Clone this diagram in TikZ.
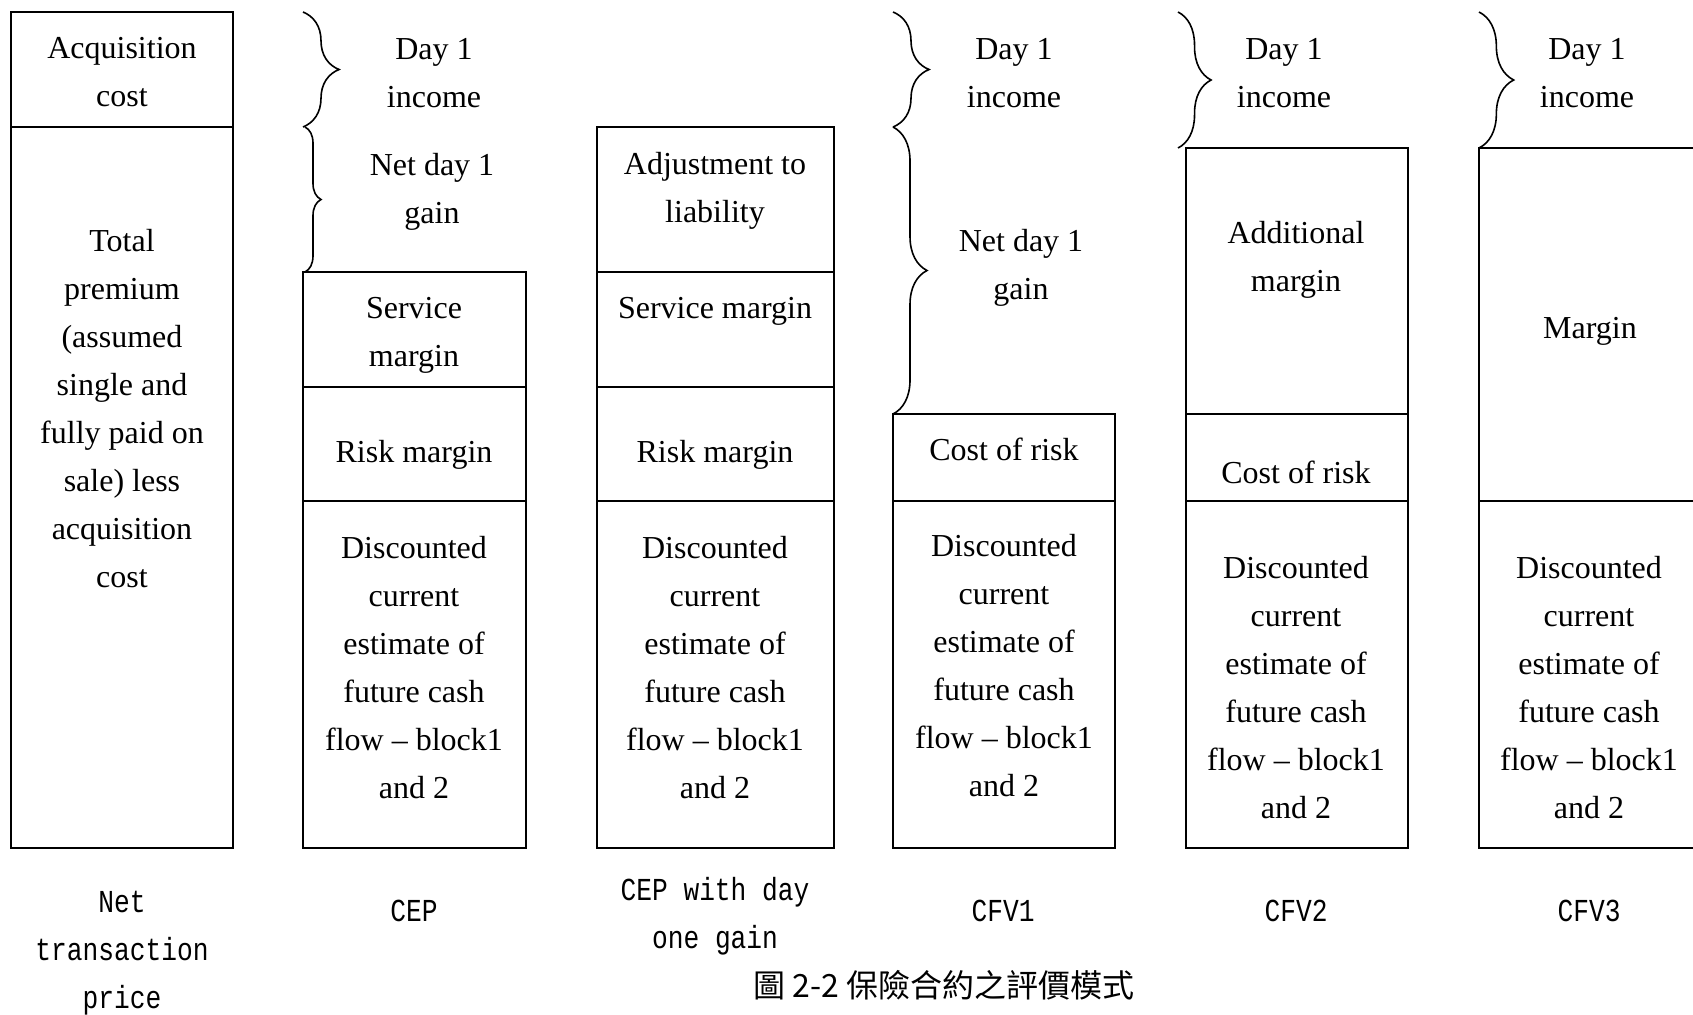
\documentclass[tikz,border=0pt]{standalone}
\usepackage{fontspec}
\setmainfont{Liberation Serif}
\newfontfamily\monof{Liberation Mono}
\newfontfamily\cjk{Noto Sans CJK TC}
\usetikzlibrary{decorations.pathreplacing}
\tikzset{
  box/.style={draw, line width=0.7pt},
  txt/.style={align=center, font=\fontsize{12}{18}\selectfont, inner sep=0pt},
  lab/.style={align=center, font=\monof\fontsize{12}{18}\selectfont, inner sep=0pt},
  brc/.style={decorate, decoration={brace, amplitude=#1}, line width=0.6pt},
}
\newcommand{\mlab}[1]{\scalebox{0.82}[1]{\begin{tabular}{@{}c@{}}#1\end{tabular}}}
\begin{document}
\begin{tikzpicture}[x=0.375pt, y=-0.375pt]
\useasboundingbox (0,0) rectangle (1693,1014);
% boxes
\draw[box] (11,12) rectangle (233,848);
\draw[box] (11,127) -- (233,127);

\draw[box] (303,272) rectangle (526,848);
\draw[box] (303,387) -- (526,387);
\draw[box] (303,501) -- (526,501);

\draw[box] (597,127) rectangle (834,848);
\draw[box] (597,272) -- (834,272);
\draw[box] (597,387) -- (834,387);
\draw[box] (597,501) -- (834,501);

\draw[box] (893,414) rectangle (1115,848);
\draw[box] (893,501) -- (1115,501);

\draw[box] (1186,148) rectangle (1408,848);
\draw[box] (1186,414) -- (1408,414);
\draw[box] (1186,501) -- (1408,501);

\draw[box] (1700,148) -- (1479,148) -- (1479,848) -- (1700,848);
\draw[box] (1479,501) -- (1700,501);

% braces
\draw[brc=13.5pt] (303,12) -- (303,127);
\draw[brc=6pt] (305,127) -- (305,272);
\draw[brc=13.5pt] (893,12) -- (893,127);
\draw[brc=12.75pt] (893,127) -- (893,414);
\draw[brc=12.4pt] (1178,12) -- (1178,148);
\draw[brc=13pt] (1479,12) -- (1479,148);

% texts
\node[txt] (acq) at (122,72) {Acquisition\\cost};
\node[txt] (tot) at (122,409) {Total\\premium\\(assumed\\single and\\fully paid on\\sale) less\\acquisition\\cost};

\node[txt] (cepd1) at (434,73) {Day 1\\income};
\node[txt] (cepnet) at (432,192) {Net day 1\\gain};
\node[txt] (cepsvc) at (414,335) {Service\\margin};
\node[txt] (ceprisk) at (414,455) {Risk margin};
\node[txt] (cepdisc) at (414,668) {Discounted\\current\\estimate of\\future cash\\flow -- block1\\and 2};

\node[txt] (gadj) at (715,191) {Adjustment to\\liability};
\node[txt] (gsvc) at (715,311) {Service margin};
\node[txt] (grisk) at (715,455) {Risk margin};
\node[txt] (gdisc) at (715,668) {Discounted\\current\\estimate of\\future cash\\flow -- block1\\and 2};

\node[txt] (v1d1) at (1014,73) {Day 1\\income};
\node[txt] (v1net) at (1021,268) {Net day 1\\gain};
\node[txt] (v1cost) at (1004,449) {Cost of risk};
\node[txt] (v1disc) at (1004,666) {Discounted\\current\\estimate of\\future cash\\flow -- block1\\and 2};

\node[txt] (v2d1) at (1284,73) {Day 1\\income};
\node[txt] (v2add) at (1296,260) {Additional\\margin};
\node[txt] (v2cost) at (1296,472) {Cost of risk};
\node[txt] (v2disc) at (1296,688) {Discounted\\current\\estimate of\\future cash\\flow -- block1\\and 2};

\node[txt] (v3d1) at (1587,73) {Day 1\\income};
\node[txt] (v3mar) at (1590,331) {Margin};
\node[txt] (v3disc) at (1589,688) {Discounted\\current\\estimate of\\future cash\\flow -- block1\\and 2};

% bottom labels
\node[lab] (lnet) at (122,951) {\mlab{Net\\transaction\\price}};
\node[lab] (lcep) at (414,912) {\mlab{CEP}};
\node[lab] (lcepg) at (715,915) {\mlab{CEP with day\\one gain}};
\node[lab] (lv1) at (1003,912) {\mlab{CFV1}};
\node[lab] (lv2) at (1296,912) {\mlab{CFV2}};
\node[lab] (lv3) at (1589,912) {\mlab{CFV3}};
\node[inner sep=0pt, font=\cjk\fontsize{12}{18}\selectfont] (cap) at (944,985) {圖 2-2 保險合約之評價模式};
\end{tikzpicture}
\end{document}
